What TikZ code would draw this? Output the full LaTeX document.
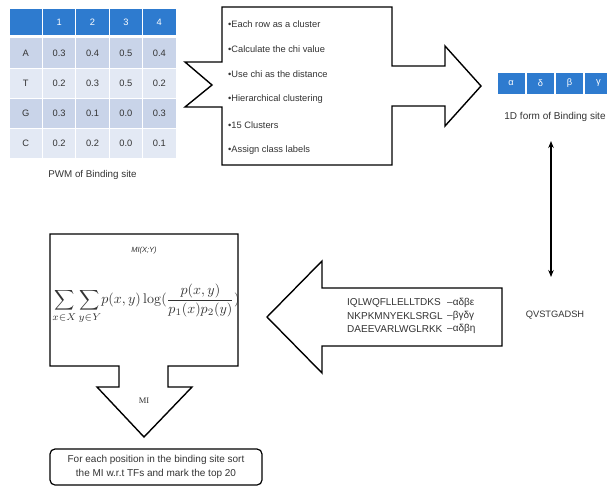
\documentclass[tikz,border=0pt]{standalone}
\usepackage{amsmath}
\usepackage[no-math]{fontspec}
\setmainfont{Liberation Sans}
\newfontfamily\miserif{Liberation Serif}
\usepackage{graphicx}
\usetikzlibrary{arrows.meta}
\definecolor{hdr}{HTML}{2E7BCF}
\definecolor{rowd}{HTML}{C9D4E9}
\definecolor{rowl}{HTML}{E3E9F4}
\definecolor{txt}{HTML}{333333}
\tikzset{
  cell/.style={minimum width=33.4pt, minimum height=30pt, inner sep=0pt, draw=white, line width=1pt, text=txt, font=\fontsize{9.3}{10}\selectfont},
  hcell/.style={cell, fill=hdr, minimum height=27pt, text=white},
  gcell/.style={minimum height=22pt, inner sep=0pt, draw=white, line width=1pt, fill=hdr, text=white, font=\fontsize{9.3}{10}\selectfont},
  blockshape/.style={draw=black, line width=1.4pt, fill=white, line join=miter},
  lbl/.style={inner sep=0pt, text=txt, font=\fontsize{9.8}{11}\selectfont},
  bul/.style={inner sep=0pt, text=txt, anchor=west, font=\fontsize{9.3}{11}\selectfont},
  seq/.style={inner sep=0pt, text=txt, anchor=west, font=\fontsize{10}{11}\selectfont},
}
\begin{document}
\begin{tikzpicture}[x=1pt,y=-1pt]
\useasboundingbox (0,0) rectangle (607,487);
% PWM table
\node[hcell] (h0) at (25.7,22.5) {};
\node[hcell] (h1) at (59.1,22.5) {1};
\node[hcell] (h2) at (92.5,22.5) {2};
\node[hcell] (h3) at (125.9,22.5) {3};
\node[hcell] (h4) at (159.3,22.5) {4};
\foreach \r/\y/\col/\a/\b/\c/\d/\e in {1/53/rowd/A/0.3/0.4/0.5/0.4, 2/83/rowl/T/0.2/0.3/0.5/0.2, 3/113/rowd/G/0.3/0.1/0.0/0.3, 4/143/rowl/C/0.2/0.2/0.0/0.1}{
  \node[cell, fill=\col] (r\r c0) at (25.7,\y) {\a};
  \node[cell, fill=\col] (r\r c1) at (59.1,\y) {\b};
  \node[cell, fill=\col] (r\r c2) at (92.5,\y) {\c};
  \node[cell, fill=\col] (r\r c3) at (125.9,\y) {\d};
  \node[cell, fill=\col] (r\r c4) at (159.3,\y) {\e};
}
\node[lbl] (pwmcap) at (92.5,175) {PWM of Binding site};
% clustering block arrow
\draw[blockshape] (222,7) -- (392,7) -- (392,66) -- (445,66) -- (445,46) -- (481,86) -- (445,126) -- (445,106) -- (392,106) -- (392,165) -- (222,165) -- (222,107) -- (185,107) -- (212,85) -- (185,62) -- (222,62) -- cycle;
\node[bul] (b1) at (228,24) {•Each row as a cluster};
\node[bul] (b2) at (228,49) {•Calculate the chi value};
\node[bul] (b3) at (228,74) {•Use chi as the distance};
\node[bul] (b4) at (228,99) {•Hierarchical clustering};
\node[bul] (b5) at (228,125) {•15 Clusters};
\node[bul] (b6) at (228,150) {•Assign class labels};
% 1D form
\node[gcell, minimum width=28pt] (g1) at (511,83) {α};
\node[gcell, minimum width=28pt] (g2) at (540.5,83) {δ};
\node[gcell, minimum width=28pt] (g3) at (569.5,83) {β};
\node[gcell, minimum width=28pt] (g4) at (598.5,83) {γ};
\node[lbl, font=\fontsize{10}{11}\selectfont] (onedcap) at (555,117) {1D form of Binding site};
% double arrow
\coordinate (dtop) at (551,141);
\coordinate (dbot) at (551,277);
\draw[line width=1.2pt, {Stealth[length=7pt,width=5.5pt]}-{Stealth[length=7pt,width=5.5pt]}] (dtop) -- (dbot);
\node[lbl, font=\fontsize{9.3}{11}\selectfont] (qv) at (555,315) {QVSTGADSH};
% left block arrow
\draw[blockshape] (267,317) -- (322,261) -- (322,288) -- (502,288) -- (502,346) -- (322,346) -- (322,373) -- cycle;
\node[seq] (s1) at (347,303) {IQLWQFLLELLTDKS};
\node[seq] (s2) at (347,316) {NKPKMNYEKLSRGL};
\node[seq] (s3) at (347,329) {DAEEVARLWGLRKK};
\node[seq] (l1) at (447,303) {--αδβε};
\node[seq] (l2) at (447,316) {--βγδγ};
\node[seq] (l3) at (447,329) {--αδβη};
% MI block
\draw[blockshape] (50,234) -- (238,234) -- (238,366) -- (168,366) -- (168,387) -- (192,387) -- (144,437) -- (97,387) -- (119,387) -- (119,366) -- (50,366) -- cycle;
\node[inner sep=0pt, text=txt, font=\fontsize{7.5}{8}\selectfont\itshape] (mixy) at (144,251) {MI(X;Y)};
\node[inner sep=0pt, text=txt] (formula) at (146,304) {\resizebox{187pt}{!}{$\displaystyle\sum_{x\in X}\sum_{y\in Y}\! p(x,y)\log(\frac{p(x,y)}{p_1(x)p_2(y)})$}};
\node[inner sep=0pt, text=txt, font=\miserif\fontsize{8.5}{9}\selectfont] (milbl) at (144,401) {MI};
% bottom box
\node[draw=black, line width=1.2pt, rounded corners=5pt, minimum width=212pt, minimum height=36pt, inner sep=0pt, align=center, text=txt, font=\fontsize{10}{14}\selectfont] (sortbox) at (156,467) {For each position in the binding site sort\\the MI w.r.t TFs and mark the top 20};
\end{tikzpicture}
\end{document}
